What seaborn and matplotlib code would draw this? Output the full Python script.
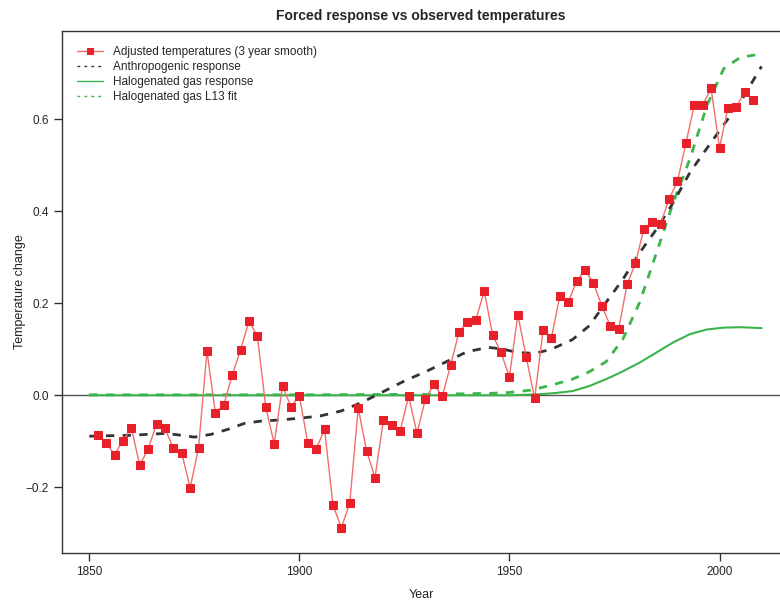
import numpy as np
import pandas as pd
import matplotlib
matplotlib.use("Agg")
import matplotlib.pyplot as plt
import seaborn as sns

# observed temperatures, 3 year smooth (every second year)
obs_years = list(range(1852, 2010, 2))
obs_temp = [
    -0.087, -0.103, -0.129, -0.099, -0.071, -0.152, -0.117, -0.063, -0.072, -0.115,
    -0.126, -0.201, -0.115, 0.096, -0.038, -0.021, 0.043, 0.099, 0.161, 0.129,
    -0.026, -0.105, 0.020, -0.025, -0.002, -0.103, -0.117, -0.074, -0.239, -0.288,
    -0.234, -0.028, -0.121, -0.179, -0.054, -0.065, -0.077, -0.002, -0.083, -0.008,
    0.024, -0.002, 0.065, 0.138, 0.159, 0.164, 0.227, 0.131, 0.093, 0.040,
    0.175, 0.083, -0.007, 0.141, 0.125, 0.216, 0.202, 0.249, 0.272, 0.244,
    0.194, 0.151, 0.144, 0.241, 0.287, 0.362, 0.377, 0.373, 0.427, 0.465,
    0.548, 0.631, 0.631, 0.667, 0.538, 0.624, 0.627, 0.659, 0.641,
]

# anthropogenic response
anthro_years = [1850, 1855, 1860, 1864, 1868, 1871, 1875, 1879, 1883, 1887,
                1891, 1895, 1900, 1905, 1910, 1915, 1920, 1925, 1930, 1935,
                1940, 1945, 1948, 1952, 1956, 1960, 1965, 1969, 1973, 1977,
                1981, 1985, 1989, 1993, 1997, 2001, 2005, 2010]
anthro_resp = [-0.089, -0.088, -0.087, -0.085, -0.083, -0.086, -0.091, -0.085, -0.074, -0.061,
               -0.056, -0.054, -0.050, -0.045, -0.034, -0.015, 0.008, 0.031, 0.051, 0.073,
               0.095, 0.104, 0.101, 0.093, 0.091, 0.100, 0.121, 0.151, 0.202, 0.252,
               0.310, 0.361, 0.419, 0.485, 0.537, 0.588, 0.638, 0.715]

# halogenated gas response
halo_years = [1850, 1950, 1957, 1961, 1965, 1969, 1973, 1977, 1981, 1985,
              1989, 1993, 1997, 2001, 2005, 2010]
halo_resp = [0.0, 0.0, 0.002, 0.005, 0.009, 0.020, 0.035, 0.052, 0.071, 0.093,
             0.115, 0.133, 0.143, 0.147, 0.148, 0.146]

# halogenated gas L13 fit
l13_years = [1850, 1900, 1930, 1945, 1950, 1955, 1960, 1965, 1969, 1973,
             1977, 1981, 1985, 1989, 1993, 1997, 2001, 2005, 2010]
l13_fit = [0.001, 0.001, 0.002, 0.004, 0.006, 0.011, 0.022, 0.035, 0.051, 0.073,
           0.122, 0.202, 0.310, 0.419, 0.515, 0.630, 0.710, 0.735, 0.742]

sns.set_style("ticks")
plt.rcParams["font.family"] = ["Liberation Sans", "DejaVu Sans"]

fig = plt.figure(figsize=(7.8, 6.02), dpi=100)
ax = fig.add_axes([62 / 780, 49 / 602, 718 / 780, 522 / 602])

ax.axhline(0, color="#555555", lw=1, zorder=1)

sns.lineplot(x=halo_years, y=halo_resp, ax=ax, color="#3cb44b", lw=1.5,
             label="Halogenated gas response", zorder=2)
sns.lineplot(x=l13_years, y=l13_fit, ax=ax, color="#3cb44b", lw=2,
             linestyle=(0, (3, 3)), label="Halogenated gas L13 fit", zorder=2)
sns.lineplot(x=anthro_years, y=anthro_resp, ax=ax, color="#333333", lw=2,
             linestyle=(0, (3, 3)), label="Anthropogenic response", zorder=3)
sns.lineplot(x=obs_years, y=obs_temp, ax=ax, color="#f26d6d", lw=1,
             marker="s", markersize=5.5, markerfacecolor="#e8202a",
             markeredgecolor="#e8202a", label="Adjusted temperatures (3 year smooth)",
             zorder=4)

ax.set_xlim(1843.5, 2014.4)
ax.set_ylim(-0.343, 0.792)
ax.set_xticks([1850, 1900, 1950, 2000])
ax.set_yticks([-0.2, 0.0, 0.2, 0.4, 0.6])
ax.set_yticklabels(["\u22120.2", "0.0", "0.2", "0.4", "0.6"])
ax.tick_params(axis="both", labelsize=8.5, length=6, width=1, color="#333333",
               labelcolor="#222222")
for side in ["left", "top", "bottom"]:
    ax.spines[side].set_color("#333333")
    ax.spines[side].set_linewidth(1)
ax.spines["right"].set_visible(False)

ax.set_xlabel("Year", fontsize=9, color="#222222", labelpad=8)
ax.set_ylabel("Temperature change", fontsize=9, color="#222222", labelpad=0)
ax.set_title("Forced response vs observed temperatures", fontsize=10,
             fontweight="bold", pad=8)

handles, labels = ax.get_legend_handles_labels()
order = [labels.index(l) for l in ["Adjusted temperatures (3 year smooth)",
                                    "Anthropogenic response",
                                    "Halogenated gas response",
                                    "Halogenated gas L13 fit"]]
leg = ax.legend([handles[i] for i in order], [labels[i] for i in order],
                loc="upper left", frameon=False, fontsize=8.5, handlelength=2.2,
                labelspacing=0.25, borderaxespad=0.9, markerscale=0.8)
for line in leg.get_lines():
    line.set_linewidth(1)
leg.get_lines()[1].set_linestyle((0, (2, 3)))
leg.get_lines()[3].set_linestyle((0, (2, 3)))

fig.savefig("out.png", dpi=100)
